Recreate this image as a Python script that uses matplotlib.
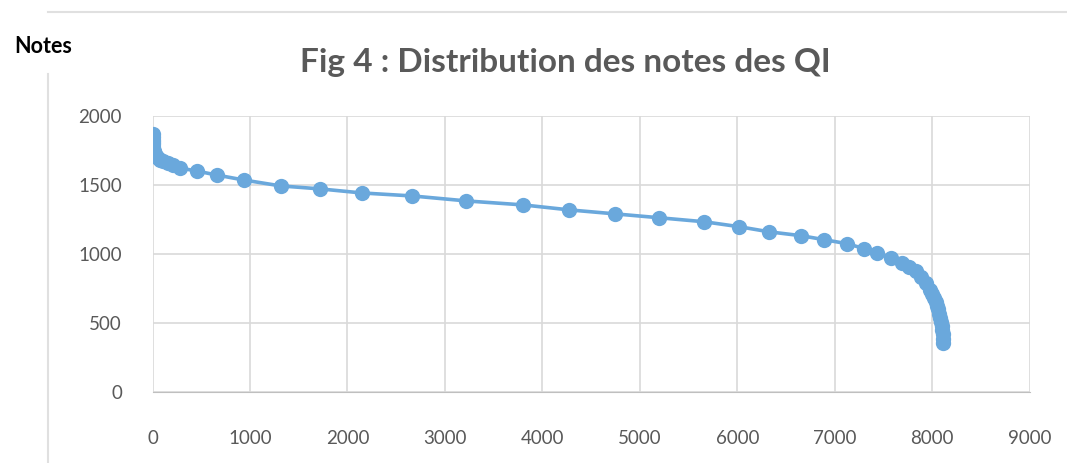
import matplotlib.pyplot as plt
from matplotlib.lines import Line2D

# rang de l'individu (classement) et note de QI
rangs = [0, 0, 0, 0, 0, 0, 5, 10, 15, 25, 35, 51, 80, 110, 154, 210, 277, 451, 656, 933,
         1313, 1723, 2144, 2667, 3221, 3805, 4277, 4749, 5200, 5662, 6021, 6328,
         6656, 6892, 7128, 7303, 7436, 7579, 7692, 7764, 7836, 7887, 7938, 7979,
         8000, 8021, 8037, 8051, 8062, 8072, 8082, 8092, 8098, 8103, 8108, 8111, 8113]
notes = [1870, 1850, 1830, 1810, 1798, 1780, 1765, 1750, 1738, 1726, 1712, 1700, 1685, 1672,
         1661, 1645, 1625, 1603, 1574, 1538,
         1495, 1473, 1444, 1422, 1386, 1357, 1321, 1292, 1264, 1235, 1199, 1162,
         1134, 1105, 1076, 1040, 1011, 975, 939, 910, 881, 838, 794, 744,
         715, 686, 657, 628, 600, 570, 538, 505, 478, 448, 420, 385, 354]

xticks = list(range(0, 9001, 1000))
yticks = [0, 500, 1000, 1500, 2000]

fig = plt.figure(figsize=(10.67, 4.63), dpi=100)
ax = fig.add_axes([0.143, 0.153, 0.822, 0.596])

ax.plot(rangs, notes, color='#6AA8DC', linewidth=2.6, marker='o', markersize=11,
        markeredgewidth=0, zorder=3)

ax.set_xlim(0, 9000)
ax.set_ylim(0, 2000)
ax.set_xticks(xticks)
ax.set_yticks(yticks)
ax.grid(True, color='#D9D9D9', linewidth=1.2)
ax.set_axisbelow(True)
for s in ['top', 'right', 'left']:
    ax.spines[s].set_visible(False)
ax.spines['bottom'].set_color('#BFBFBF')
ax.tick_params(length=0, labelsize=13.5, labelcolor='#595959')
ax.tick_params(axis='x', pad=27)
ax.tick_params(axis='y', pad=22)
for lab in ax.get_xticklabels() + ax.get_yticklabels():
    lab.set_family('Lato')

fig.text(0.53, 0.865, 'Fig 4 : Distribution des notes des QI', ha='center', va='center',
         fontsize=24, fontweight='bold', color='#595959', family='Lato')
fig.text(0.013, 0.9, 'Notes', ha='left', va='center', fontsize=15.5, fontweight='bold',
         color='black', family='Lato')

# cadre clair autour
fig.add_artist(Line2D([0.045, 1.0], [0.974, 0.974], color='#E0E0E0', linewidth=1.5))
fig.add_artist(Line2D([0.045, 0.045], [0.0, 0.84], color='#E0E0E0', linewidth=1.5))

fig.savefig('out.png', dpi=100)
